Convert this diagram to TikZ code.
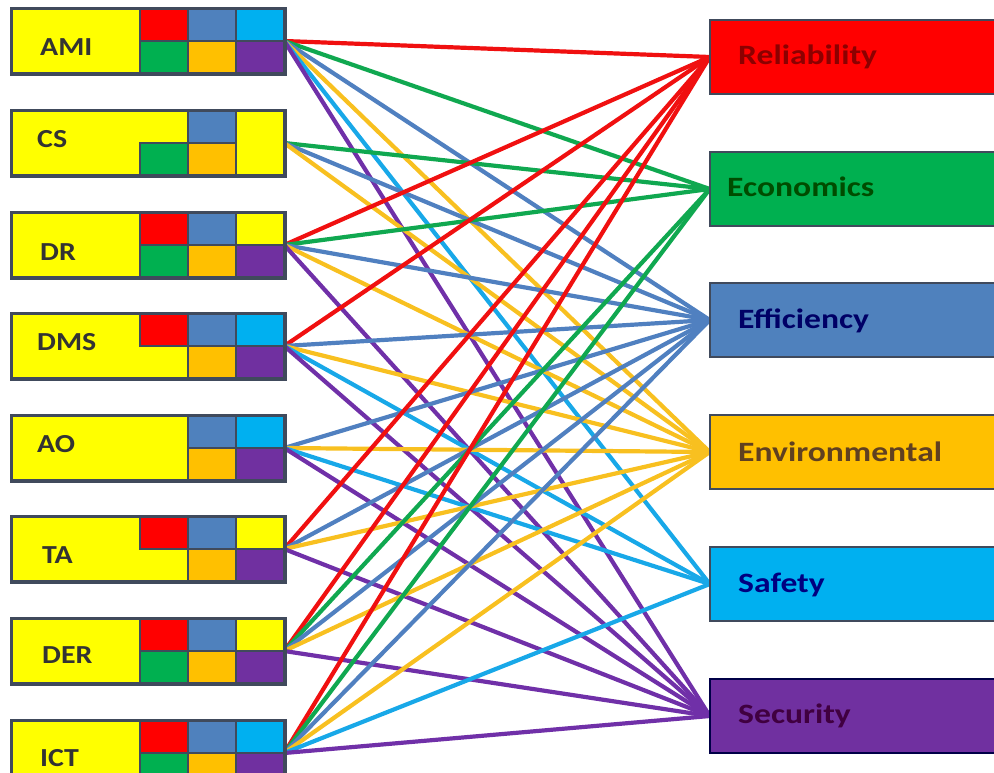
\documentclass[tikz,border=0pt]{standalone}
\usepackage{fontspec}
\setmainfont{Carlito}[FakeStretch=1.15]
\newfontfamily\rfont{Carlito}[FakeStretch=1.2]
\definecolor{cRed}{HTML}{FF0000}
\definecolor{cGreen}{HTML}{00B050}
\definecolor{cBlue}{HTML}{4F81BD}
\definecolor{cOrange}{HTML}{FFC000}
\definecolor{cCyan}{HTML}{00B0F0}
\definecolor{cPurple}{HTML}{7030A0}
\definecolor{cYellow}{HTML}{FFFF00}
\definecolor{cBorder}{HTML}{404A5C}
\definecolor{crel}{HTML}{F01010}
\definecolor{ceco}{HTML}{10A850}
\definecolor{ceff}{HTML}{5080C0}
\definecolor{cenv}{HTML}{F8C020}
\definecolor{csaf}{HTML}{18A8E8}
\definecolor{csec}{HTML}{7030A8}
\pgfdeclarelayer{bg}
\pgfsetlayers{bg,main}
\tikzset{
  lbox/.style={draw=cBorder, line width=2.5pt, fill=cYellow, minimum width=272pt, minimum height=64pt, inner sep=0pt},
  rbox/.style={draw=cBorder, line width=2.5pt, minimum width=300pt, minimum height=74pt, inner sep=0pt},
  cellb/.style={draw=cBorder, line width=1.8pt},
  ltext/.style={anchor=base west, inner sep=0pt, font=\fontsize{26}{30}\selectfont\bfseries, text=black!80},
  rtext/.style={anchor=base west, inner sep=0pt, font=\rfont\fontsize{28}{32}\selectfont\bfseries},
  conn/.style={line width=4.2pt}
}
\newcommand\mycell[4]{\filldraw[cellb,fill=#4] ({140+(#1-1)*48},{#3+(#2-1)*32}) rectangle ++(48,32);}
\begin{document}
\begin{tikzpicture}[x=1pt,y=-1pt]
\useasboundingbox (0,0) rectangle (994,772);
\clip (0,0) rectangle (994,772);
% right boxes
\node[rbox, fill=cRed] (rel) at (860,57) {};
\node[rbox, fill=cGreen] (eco) at (860,189) {};
\node[rbox, fill=cBlue] (eff) at (860,320) {};
\node[rbox, fill=cOrange] (env) at (860,452) {};
\node[rbox, fill=cCyan] (saf) at (860,584) {};
\node[rbox, fill=cPurple, draw=black!60!blue!70!black] (sec) at (860,716) {};
\node[rtext, text=red!55!black] (relT) at (738,64) {Reliability};
\node[rtext, text=green!30!black] (ecoT) at (727,196) {Economics};
\node[rtext, text=blue!40!black] (effT) at (738,328) {Efficiency};
\node[rtext, text=brown!50!black] (envT) at (738,461) {Environmental};
\node[rtext, text=blue!50!black] (safT) at (738,592) {Safety};
\node[rtext, text=violet!50!black] (secT) at (738,723) {Security};
% left boxes
\node[lbox] (ami) at (148,41) {};
\node[lbox] (cs) at (148,143) {};
\node[lbox] (dr) at (148,245) {};
\node[lbox] (dms) at (148,346) {};
\node[lbox] (ao) at (148,448) {};
\node[lbox] (ta) at (148,549) {};
\node[lbox] (der) at (148,651) {};
\node[lbox] (ict) at (148,753) {};
% AMI
\mycell{1}{1}{9}{cRed}\mycell{2}{1}{9}{cBlue}\mycell{3}{1}{9}{cCyan}
\mycell{1}{2}{9}{cGreen}\mycell{2}{2}{9}{cOrange}\mycell{3}{2}{9}{cPurple}
% CS
\mycell{2}{1}{111}{cBlue}
\mycell{1}{2}{111}{cGreen}\mycell{2}{2}{111}{cOrange}
\filldraw[cellb, fill=cYellow] (236,111) rectangle (284,175);
% DR
\mycell{1}{1}{213}{cRed}\mycell{2}{1}{213}{cBlue}\mycell{3}{1}{213}{cYellow}
\mycell{1}{2}{213}{cGreen}\mycell{2}{2}{213}{cOrange}\mycell{3}{2}{213}{cPurple}
% DMS
\mycell{1}{1}{314}{cRed}\mycell{2}{1}{314}{cBlue}\mycell{3}{1}{314}{cCyan}
\mycell{2}{2}{314}{cOrange}\mycell{3}{2}{314}{cPurple}
% AO
\mycell{2}{1}{416}{cBlue}\mycell{3}{1}{416}{cCyan}
\mycell{2}{2}{416}{cOrange}\mycell{3}{2}{416}{cPurple}
% TA
\mycell{1}{1}{517}{cRed}\mycell{2}{1}{517}{cBlue}\mycell{3}{1}{517}{cYellow}
\mycell{2}{2}{517}{cOrange}\mycell{3}{2}{517}{cPurple}
% DER
\mycell{1}{1}{619}{cRed}\mycell{2}{1}{619}{cBlue}\mycell{3}{1}{619}{cYellow}
\mycell{1}{2}{619}{cGreen}\mycell{2}{2}{619}{cOrange}\mycell{3}{2}{619}{cPurple}
% ICT
\mycell{1}{1}{721}{cRed}\mycell{2}{1}{721}{cBlue}\mycell{3}{1}{721}{cCyan}
\mycell{1}{2}{721}{cGreen}\mycell{2}{2}{721}{cOrange}\mycell{3}{2}{721}{cPurple}
% outer borders
\foreach \n in {ami,cs,dr,dms,ao,ta,der,ict}
  \draw[draw=cBorder, line width=2.5pt] (\n.north west) rectangle (\n.south east);
% labels
\node[ltext] (amiT) at (40,55) {AMI};
\node[ltext] (csT) at (37,147) {CS};
\node[ltext] (drT) at (40,260) {DR};
\node[ltext] (dmsT) at (37,350) {DMS};
\node[ltext] (aoT) at (37,452) {AO};
\node[ltext] (taT) at (42,563) {TA};
\node[ltext] (derT) at (42,663) {DER};
\node[ltext] (ictT) at (40,766) {ICT};
% connectors
\begin{pgfonlayer}{bg}
\foreach \s/\t in {ami/rel,ami/eco,ami/eff,ami/env,ami/saf,ami/sec,
  cs/eco,cs/eff,cs/env,
  dr/rel,dr/eco,dr/eff,dr/env,dr/sec,
  dms/rel,dms/eff,dms/env,dms/saf,dms/sec,
  ao/eff,ao/env,ao/saf,ao/sec,
  ta/rel,ta/eff,ta/env,ta/sec,
  der/rel,der/eco,der/eff,der/env,der/sec,
  ict/rel,ict/eco,ict/eff,ict/env,ict/saf,ict/sec}
  \draw[conn, color=c\t] ([xshift=-1pt]\s.east) -- ([xshift=1pt]\t.west);
\end{pgfonlayer}
\end{tikzpicture}
\end{document}
